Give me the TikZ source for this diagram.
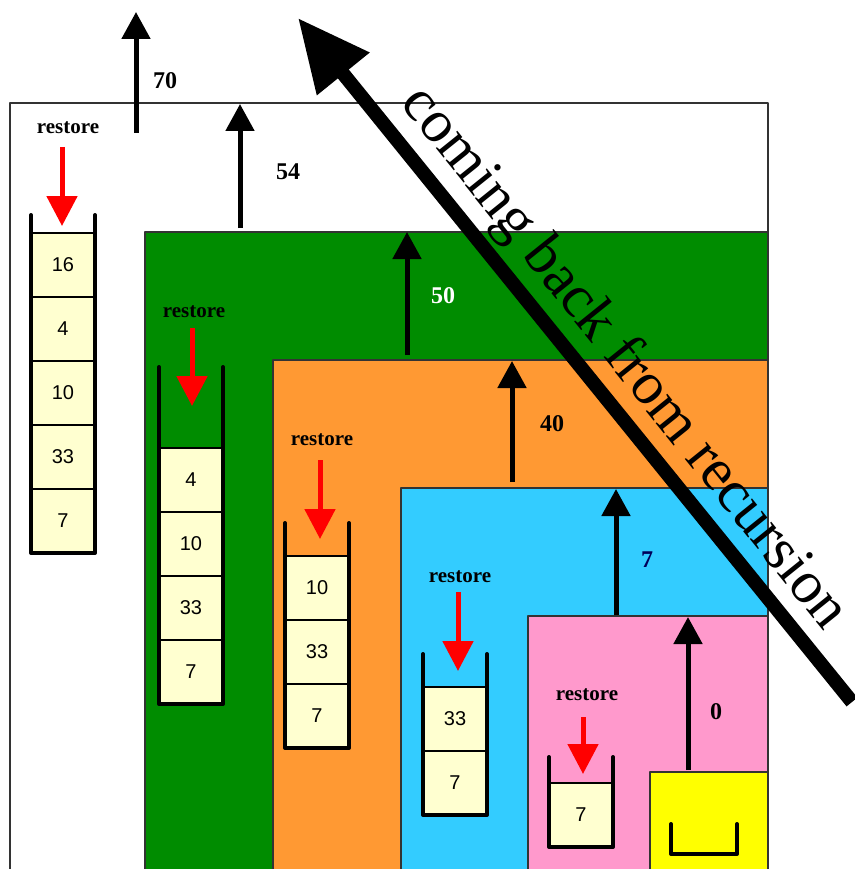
\documentclass[tikz,border=0pt]{standalone}
\usepackage{fontspec}
\setmainfont{Liberation Serif}
\newfontfamily\cellfont{Liberation Sans}
\usetikzlibrary{arrows.meta, calc}

\definecolor{lvgreen}{RGB}{0,140,0}
\definecolor{lvorange}{RGB}{255,153,51}
\definecolor{lvblue}{RGB}{51,204,255}
\definecolor{lvpink}{RGB}{255,153,204}
\definecolor{lvyellow}{RGB}{255,255,0}
\definecolor{cellfill}{RGB}{255,255,208}
\definecolor{navy}{RGB}{0,0,90}

\tikzset{
    level/.style={draw=black!80, line width=1.3pt},
    uparrow/.style={line width=5pt, -{Triangle[length=27pt, width=28pt]}},
    pusharrow/.style={red, line width=5pt, -{Triangle[length=30pt, width=30pt]}},
    wall/.style={line width=4pt, line cap=round, line join=round},
    cell/.style={draw, line width=2pt, fill=cellfill},
    cellnum/.style={font=\cellfont\fontsize{20}{20}\selectfont},
    restorelbl/.style={font=\bfseries\fontsize{21}{21}\selectfont},
    valuelbl/.style={font=\bfseries\fontsize{24}{24}\selectfont}
}

\begin{document}
\begin{tikzpicture}[x=1pt, y=-1pt, line join=round]
    \useasboundingbox (0,0) rectangle (854,869);

    % nested levels
    \fill[white] (10,103) rectangle (768,875);
    \draw[level] (10,875) -- (10,103) -- (768,103) -- (768,875);
    \filldraw[level, fill=lvgreen] (145,875) -- (145,232) -- (768,232) -- (768,875);
    \filldraw[level, fill=lvorange] (273,875) -- (273,360) -- (768,360) -- (768,875);
    \filldraw[level, fill=lvblue] (401,875) -- (401,488) -- (768,488) -- (768,875);
    \filldraw[level, fill=lvpink] (528,875) -- (528,616) -- (768,616) -- (768,875);
    \filldraw[level, fill=lvyellow] (650,875) -- (650,772) -- (768,772) -- (768,875);

    % stacks: x left, top of wall, top of cells, values
    \foreach \sx/\wt/\ct/\vals/\sn in {31/215/233/{16,4,10,33,7}/a,
                                      159/367/448/{4,10,33,7}/b,
                                      285/523/556/{10,33,7}/c,
                                      423/654/687/{33,7}/d,
                                      549/757/783/{7}/e}{
        \foreach \v [count=\i from 0] in \vals {
            \filldraw[cell] (\sx,\ct+64*\i) rectangle ++(64,64);
            \node[cellnum] (cell-\sn-\i) at (\sx+32,\ct+64*\i+32) {\v};
            \xdef\nc{\i}
        }
        \draw[wall] (\sx,\wt) -- (\sx,\ct+64*\nc+64) -- (\sx+64,\ct+64*\nc+64) -- (\sx+64,\wt);
    }
    % empty stack
    \draw[wall] (671,824) -- (671,854) -- (737,854) -- (737,824);

    % restore
    \foreach \lx/\ly/\ax/\ay/\az/\sn in {68/128/62/147/226/a,
                                          194/312/192/328/406/b,
                                          322/440/320/460/539/c,
                                          460/577/458/592/671/d,
                                          587/695/583/717/774/e}{
        \node[restorelbl] (restore-\sn) at (\lx,\ly) {restore};
        \coordinate (push-\sn-from) at (\ax,\ay);
        \coordinate (push-\sn-to) at (\ax,\az);
        \draw[pusharrow] (push-\sn-from) -- (push-\sn-to);
    }

    % return values
    \coordinate (r70a) at (136,133); \coordinate (r70b) at (136,12);
    \coordinate (r54a) at (240,228); \coordinate (r54b) at (240,104);
    \coordinate (r50a) at (407,355); \coordinate (r50b) at (407,232);
    \coordinate (r40a) at (512,482); \coordinate (r40b) at (512,361);
    \coordinate (r7a) at (616,615);  \coordinate (r7b) at (616,489);
    \coordinate (r0a) at (688,770);  \coordinate (r0b) at (688,617);
    \draw[uparrow] (r70a) -- (r70b);
    \draw[uparrow] (r54a) -- (r54b);
    \draw[uparrow] (r50a) -- (r50b);
    \draw[uparrow] (r40a) -- (r40b);
    \draw[uparrow] (r7a) -- (r7b);
    \draw[uparrow] (r0a) -- (r0b);
    \node[valuelbl] (v70) at (165,81) {70};
    \node[valuelbl] (v54) at (288,172) {54};
    \node[valuelbl, white] (v50) at (443,296) {50};
    \node[valuelbl] (v40) at (552,424) {40};
    \node[valuelbl, navy] (v7) at (647,560) {7};
    \node[valuelbl] (v0) at (716,712) {0};

    % coming back
    \coordinate (back-from) at (852,702);
    \coordinate (back-to) at (298,18);
    \draw[line width=14pt, -{Triangle[length=72pt, width=64pt]}] (back-from) -- (back-to);
    \node[rotate=-51.2, anchor=base, font=\fontsize{60}{60}\selectfont] (backtxt)
        at (612,368) {coming back from recursion};
\end{tikzpicture}
\end{document}
